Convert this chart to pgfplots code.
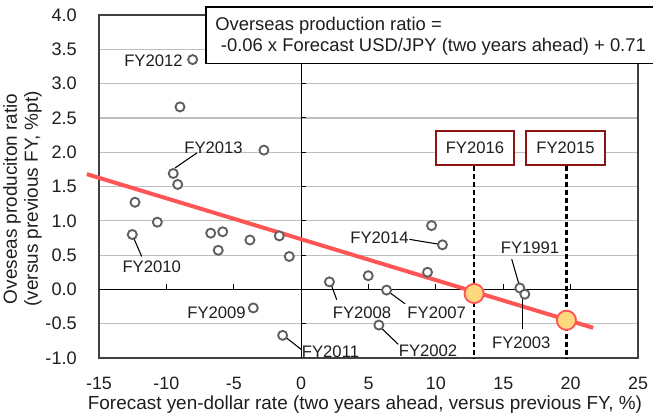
\documentclass[border=0pt]{standalone}
\usepackage{pgfplots}
\pgfplotsset{compat=1.18}
\usepackage{fontspec}
\setmainfont{Liberation Sans}
\usetikzlibrary{calc}
\definecolor{redline}{RGB}{255,85,85}
\definecolor{yellowfill}{RGB}{255,215,125}
\definecolor{markgray}{RGB}{95,95,95}
\definecolor{gridgray}{RGB}{190,190,190}
\definecolor{boxred}{RGB}{140,20,20}
\definecolor{txt}{RGB}{30,30,30}
\begin{document}
\begin{tikzpicture}
\begin{axis}[
  name=ax,
  scale only axis,
  width=404.25pt, height=257.25pt,
  xmin=-15, xmax=25, ymin=-1, ymax=4,
  xtick={-15,-10,...,25},
  ytick={-1,-0.5,...,4},
  major tick length=0pt,
  ymajorgrids,
  grid style={gridgray, line width=0.9pt},
  axis line style={draw=black!75, line width=0.9pt},
  clip=false,
  /pgf/number format/assume math mode=true,
  xticklabel style={font=\fontsize{13.4}{15}\selectfont, text=txt, inner sep=0pt, anchor=north, yshift=-14.25pt},
  yticklabel style={font=\fontsize{13.6}{15}\selectfont, text=txt, inner sep=0pt, anchor=east, xshift=-16.5pt,
     /pgf/number format/.cd, fixed, fixed zerofill, precision=1},
  xticklabel style={/pgf/number format/.cd, fixed, precision=0},
]
% zero lines with inner ticks
\draw[black, line width=0.8pt] (axis cs:-15,0) -- (axis cs:25,0);
\draw[black, line width=0.8pt] (axis cs:0,-1) -- (axis cs:0,4);
\pgfplotsinvokeforeach{-10,-5,5,10,15,20}{\draw[black, line width=0.8pt] (axis cs:#1,0) -- (axis cs:#1,0.073);}
\pgfplotsinvokeforeach{-0.5,0.5,1,1.5,2,2.5,3,3.5}{\draw[black, line width=0.8pt] (axis cs:0,#1) -- (axis cs:0.371,#1);}

% regression line
\addplot[redline, line width=3pt, no marks] coordinates {(-15.9,1.68) (21.67,-0.56)};

% dashed lines
\addplot[black, line width=1.6pt, dash pattern=on 3.75pt off 2.25pt, no marks] coordinates {(12.84,1.80) (12.84,-1)};
\addplot[black, line width=1.6pt, dash pattern=on 3.75pt off 2.25pt, no marks] coordinates {(19.69,1.80) (19.69,-1)};

% data points
\addplot[only marks, mark=*, mark size=3.4pt, mark options={draw=markgray, fill=white, line width=1.4pt}] coordinates {
(-8.05,3.35) (-8.99,2.66) (-2.76,2.03) (-9.49,1.69) (-9.16,1.53) (-12.33,1.27)
(-10.67,0.98) (-12.53,0.80) (-6.71,0.82) (-5.82,0.84) (-6.15,0.57) (-3.80,0.72)
(-1.62,0.78) (-0.88,0.48) (-3.55,-0.27) (-1.37,-0.67) (2.1,0.11) (4.98,0.20)
(6.34,-0.01) (5.77,-0.52) (9.38,0.25) (9.68,0.93) (10.49,0.65) (16.23,0.02) (16.6,-0.07)
};

% highlighted points
\addplot[only marks, mark=*, mark size=7.2pt, mark options={draw=redline, fill=yellowfill, line width=1.4pt}] coordinates {(12.84,-0.06) (19.69,-0.45)};

% leader lines
\draw[black, line width=0.8pt] (axis cs:-9.36,1.77) -- (axis cs:-7.73,1.99);
\draw[black, line width=0.8pt] (axis cs:-12.45,0.76) -- (axis cs:-11.83,0.48);
\draw[black, line width=0.8pt] (axis cs:-1.07,-0.71) -- (axis cs:0.04,-0.88);
\draw[black, line width=0.8pt] (axis cs:2.27,0.05) -- (axis cs:2.64,-0.15);
\draw[black, line width=0.8pt] (axis cs:6.60,-0.05) -- (axis cs:7.71,-0.21);
\draw[black, line width=0.8pt] (axis cs:5.98,-0.57) -- (axis cs:7.21,-0.80);
\draw[black, line width=0.8pt] (axis cs:8.03,0.73) -- (axis cs:10.18,0.66);
\draw[black, line width=0.8pt] (axis cs:15.63,0.44) -- (axis cs:16.19,0.06);
\draw[black, line width=0.8pt] (axis cs:16.44,-0.12) -- (axis cs:16.44,-0.57);

% point labels
\tikzset{fy/.style={font=\fontsize{12.5}{14}\selectfont, text=txt, inner sep=0pt}}
\node[fy, anchor=east] at (axis cs:-8.77,3.34) {FY2012};
\node[fy] at (axis cs:-6.50,2.06) {FY2013};
\node[fy] at (axis cs:-11.09,0.33) {FY2010};
\node[fy, anchor=east] at (axis cs:-4.09,-0.34) {FY2009};
\node[fy, anchor=west] at (axis cs:0.04,-0.91) {FY2011};
\node[fy] at (axis cs:4.52,-0.34) {FY2008};
\node[fy] at (axis cs:10.06,-0.34) {FY2007};
\node[fy] at (axis cs:9.42,-0.89) {FY2002};
\node[fy] at (axis cs:5.82,0.76) {FY2014};
\node[fy] at (axis cs:16.99,0.60) {FY1991};
\node[fy] at (axis cs:16.34,-0.78) {FY2003};

% boxed labels
\node[fy, draw=boxred, line width=1.5pt, fill=white, minimum width=59pt, minimum height=26pt] at (axis cs:12.90,2.06) {FY2016};
\node[fy, draw=boxred, line width=1.5pt, fill=white, minimum width=59pt, minimum height=26pt] at (axis cs:19.62,2.06) {FY2015};

% equation box
\filldraw[draw=black, fill=white, line width=1.1pt] (axis cs:-7.06,3.29) rectangle (axis cs:28,4.12);
\node[font=\fontsize{13.8}{16}\selectfont, text=txt, anchor=west, inner sep=0pt] at (axis cs:-6.39,3.84) {Overseas production ratio =};
\node[font=\fontsize{13.8}{16}\selectfont, text=txt, anchor=west, inner sep=0pt] at (axis cs:-5.97,3.54) {-0.06 x Forecast USD/JPY (two years ahead) + 0.71};

% axis labels
\node[font=\fontsize{14.2}{16}\selectfont, text=txt, rotate=90, inner sep=0pt] at (axis cs:-21.46,1.32) {Oveseas produciton ratio};
\node[font=\fontsize{14.2}{16}\selectfont, text=txt, rotate=90, inner sep=0pt] at (axis cs:-19.90,1.32) {(versus previous FY, \%pt)};
\node[font=\fontsize{14.2}{16}\selectfont, text=txt, inner sep=0pt] at (axis cs:4.74,-1.685) {Forecast yen-dollar rate (two years ahead, versus previous FY, \%)};
\end{axis}
\pgfresetboundingbox
\path[use as bounding box] ($(ax.south west)+(-74.25pt,-45pt)$) rectangle ($(ax.south west)+(415.5pt,268.5pt)$);
\end{tikzpicture}
\end{document}
